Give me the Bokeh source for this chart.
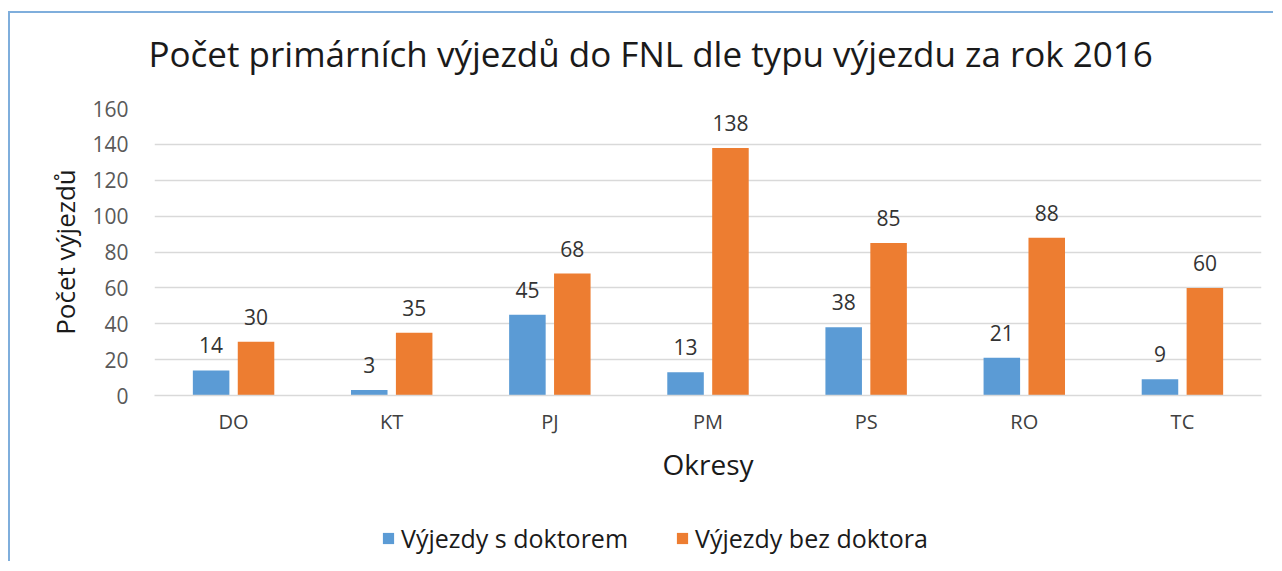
from bokeh.plotting import figure
from bokeh.layouts import column
from bokeh.models import ColumnDataSource, FactorRange, LabelSet, Legend, LegendItem, Title
from bokeh.transform import dodge
from bokeh.core.properties import value
from bokeh.embed import file_html
from bokeh.resources import INLINE

categories = ["DO", "KT", "PJ", "PM", "PS", "RO", "TC"]
s_doktorem = [14, 3, 45, 13, 38, 21, 9]
bez_doktora = [30, 35, 68, 138, 85, 88, 60]
series_names = ["Výjezdy s doktorem", "Výjezdy bez doktora"]
y_ticks = [0, 20, 40, 60, 80, 100, 120, 140, 160]

FONT = "Open Sans"
BLUE = "#5B9BD5"
ORANGE = "#ED7D31"
W = 1265

src = ColumnDataSource(dict(cat=categories, a=s_doktorem, b=bez_doktora,
                            la=[str(v) for v in s_doktorem], lb=[str(v) for v in bez_doktora]))

p = figure(x_range=FactorRange(*categories, range_padding=0), y_range=(0, 160),
           width=W, height=492, output_backend="svg", toolbar_location=None,
           min_border_left=144, min_border_right=14, min_border_top=95, min_border_bottom=110)
p.outline_line_color = None
p.background_fill_color = "white"

# spacer between the title and the plot area (added first -> nearest to the frame)
spacer = Title(text=" ", text_font_size="1px", standoff=24)
p.add_layout(spacer, "above")
t = Title(text="Počet primárních výjezdů do FNL dle typu výjezdu za rok 2016",
          align="left", offset=-6, text_font=FONT, text_font_size="35px", text_font_style="normal",
          text_color="#1a1a1a", standoff=10)
p.add_layout(t, "above")

ra = p.vbar(x=dodge("cat", -0.142, range=p.x_range), top="a", width=0.231, source=src,
            fill_color=BLUE, line_color=None)
rb = p.vbar(x=dodge("cat", 0.142, range=p.x_range), top="b", width=0.231, source=src,
            fill_color=ORANGE, line_color=None)

for col, lab, off in (("a", "la", -0.142), ("b", "lb", 0.142)):
    ls = LabelSet(x=dodge("cat", off, range=p.x_range), y=col, text=lab, source=src,
                  text_align="center", text_baseline="alphabetic", y_offset=17,
                  text_font=value(FONT), text_font_size="21px", text_color="#333333")
    p.add_layout(ls)

p.ygrid.grid_line_color = "#D9D9D9"
p.ygrid.grid_line_width = 1.5
p.xgrid.grid_line_color = None

p.yaxis.ticker = y_ticks
p.yaxis.axis_line_color = None
p.yaxis.major_tick_line_color = None
p.yaxis.minor_tick_line_color = None
p.yaxis.major_label_text_font = FONT
p.yaxis.major_label_text_font_size = "21px"
p.yaxis.major_label_text_color = "#595959"
p.yaxis.major_label_standoff = 20
p.yaxis.axis_label = "Počet výjezdů"
p.yaxis.axis_label_text_font = FONT
p.yaxis.axis_label_text_font_size = "26px"
p.yaxis.axis_label_text_font_style = "normal"
p.yaxis.axis_label_text_color = "#1a1a1a"
p.yaxis.axis_label_standoff = 6

p.xaxis.axis_line_color = "#D9D9D9"
p.xaxis.axis_line_width = 1.5
p.xaxis.major_tick_line_color = None
p.xaxis.minor_tick_line_color = None
p.xaxis.major_label_text_font = FONT
p.xaxis.major_label_text_font_size = "20px"
p.xaxis.major_label_text_color = "#404040"
p.xaxis.major_label_standoff = 6
p.xaxis.axis_label = "Okresy"
p.xaxis.axis_label_text_font = FONT
p.xaxis.axis_label_text_font_size = "28px"
p.xaxis.axis_label_text_font_style = "normal"
p.xaxis.axis_label_text_color = "#1a1a1a"
p.xaxis.axis_label_standoff = 7

# legend strip below the chart
lg = figure(width=W, height=58, x_range=(0, 1), y_range=(0, 1), output_backend="svg",
            toolbar_location=None, x_axis_type=None, y_axis_type=None,
            min_border_left=0, min_border_right=0, min_border_top=0, min_border_bottom=0)
lg.outline_line_color = None
lg.xgrid.grid_line_color = None
lg.ygrid.grid_line_color = None
la_r = lg.vbar(x=[-5], top=[-5], width=0.1, fill_color=BLUE, line_color=None)
lb_r = lg.vbar(x=[-5], top=[-5], width=0.1, fill_color=ORANGE, line_color=None)
legend = Legend(items=[LegendItem(label=series_names[0], renderers=[la_r]),
                       LegendItem(label=series_names[1], renderers=[lb_r])],
                orientation="horizontal", location=(227, 8),
                label_text_font=FONT, label_text_font_size="25px", label_text_color="#1a1a1a",
                glyph_width=14, glyph_height=14, spacing=47, label_standoff=6,
                border_line_color=None, background_fill_alpha=0, margin=0, padding=0)
lg.add_layout(legend)

layout = column(p, lg, spacing=0)
layout.margin = (13, 0, 0, 10)
layout.styles = {"box-shadow": "-2px -2px 0 0 #7FAEDC"}

open("out.html", "w").write(file_html(layout, INLINE))
